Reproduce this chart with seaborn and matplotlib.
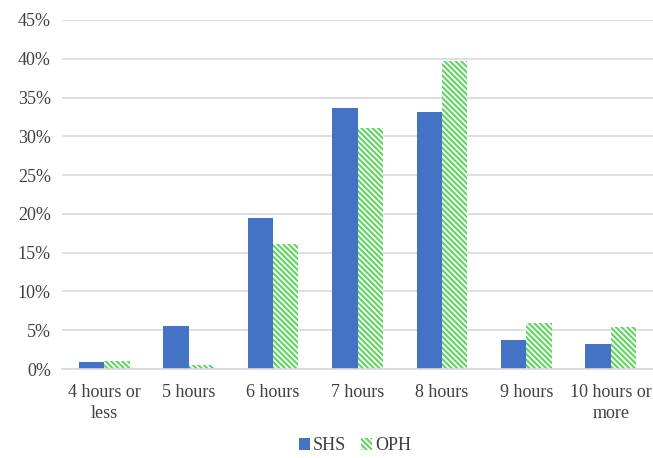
import pandas as pd
import matplotlib
matplotlib.use('Agg')
import matplotlib.pyplot as plt
import seaborn as sns
from matplotlib.ticker import PercentFormatter
from matplotlib.patches import Patch

categories = ['4 hours or\nless', '5 hours', '6 hours', '7 hours', '8 hours', '9 hours', '10 hours or\nmore']
shs = [0.9, 5.5, 19.5, 33.6, 33.1, 3.7, 3.2]
oph = [1.0, 0.5, 16.1, 31.1, 39.7, 5.9, 5.4]
groups = ['SHS', 'OPH']

df = pd.DataFrame({
    'cat': categories * 2,
    'val': shs + oph,
    'grp': ['SHS'] * len(shs) + ['OPH'] * len(oph),
})

blue = '#4472c4'
green = '#5cd65c'
hatch = '\\\\\\\\\\\\'

sns.set_style('white')
plt.rcParams['font.family'] = ['Liberation Serif', 'DejaVu Serif']
plt.rcParams['hatch.linewidth'] = 1.5

fig = plt.figure(figsize=(6.53, 4.58), dpi=100)
ax = fig.add_axes([62 / 653, 1 - 369 / 458, 1 - 62 / 653, (369 - 20) / 458])

sns.barplot(data=df, x='cat', y='val', hue='grp', hue_order=groups,
            palette=[blue, 'white'], saturation=1, width=0.6, gap=0.0,
            ax=ax, legend=False)

n = len(categories)
for i, p in enumerate(ax.patches[:2 * n]):
    if i >= n:
        p.set_facecolor('white')
        p.set_edgecolor(green)
        p.set_hatch(hatch)
        p.set_linewidth(0)
    else:
        p.set_edgecolor('none')

ax.set_ylim(0, 45)
ax.set_xlim(-0.5, n - 0.5)
ax.set_yticks(range(0, 46, 5))
ax.yaxis.set_major_formatter(PercentFormatter(decimals=0))
ax.grid(axis='y', color='#d9d9d9', linewidth=1.2)
ax.set_axisbelow(True)
for s in ['top', 'right', 'left']:
    ax.spines[s].set_visible(False)
ax.spines['bottom'].set_color('#d9d9d9')
ax.spines['bottom'].set_linewidth(1.2)
ax.tick_params(axis='y', length=0, labelsize=13, colors='#404040', pad=8)
ax.tick_params(axis='x', length=0, labelsize=13, colors='#404040', pad=11)
for t in ax.get_xticklabels():
    t.set_linespacing(1.25)
ax.set_xlabel('')
ax.set_ylabel('')

handles = [Patch(facecolor=blue, edgecolor='none'),
           Patch(facecolor='white', edgecolor=green, hatch=hatch, linewidth=0)]
fig.legend(handles, groups, loc='center', bbox_to_anchor=(355 / 653, 1 - 446 / 458),
           ncol=2, frameon=False, fontsize=13, handlelength=0.6, handleheight=0.6,
           handletextpad=0.2, columnspacing=0.8, labelcolor='#404040')

fig.savefig('out.png', dpi=100)
